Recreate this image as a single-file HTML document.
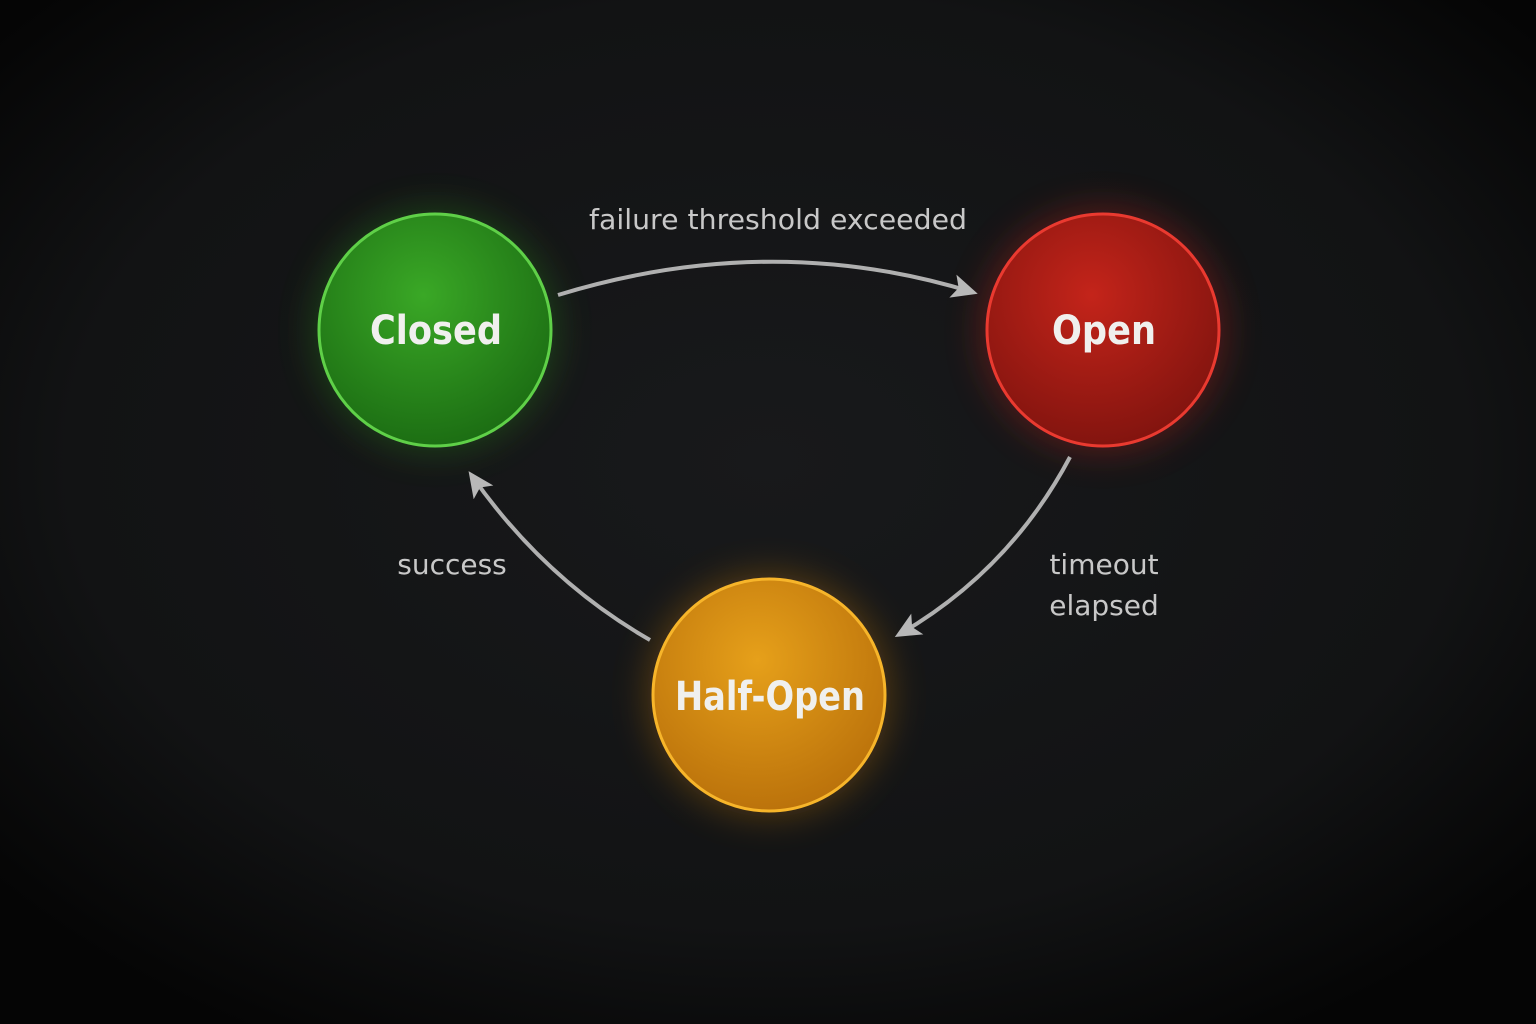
<!DOCTYPE html>
<html><head><meta charset="utf-8"><style>
html,body{margin:0;padding:0;width:1536px;height:1024px;overflow:hidden;background:#101012;}
svg{display:block}
text{font-family:"DejaVu Sans","Liberation Sans",sans-serif;}
</style></head><body>
<svg width="1536" height="1024" viewBox="0 0 1536 1024">
<defs>
<radialGradient id="bg" cx="50%" cy="45%" r="65%">
<stop offset="0" stop-color="#18191b"/><stop offset="0.7" stop-color="#121314"/><stop offset="1" stop-color="#050505"/>
</radialGradient>
<radialGradient id="g" cx="45%" cy="35%" r="70%"><stop offset="0" stop-color="#3aa826"/><stop offset="1" stop-color="#1a6a12"/></radialGradient>
<radialGradient id="r" cx="45%" cy="35%" r="70%"><stop offset="0" stop-color="#c4241a"/><stop offset="1" stop-color="#7e130e"/></radialGradient>
<radialGradient id="y" cx="45%" cy="35%" r="70%"><stop offset="0" stop-color="#e6a01a"/><stop offset="1" stop-color="#b86f0a"/></radialGradient>
<filter id="glow" x="-50%" y="-50%" width="200%" height="200%"><feGaussianBlur stdDeviation="18"/></filter>
<marker id="ah2" markerWidth="28" markerHeight="28" refX="20" refY="14" orient="auto" markerUnits="userSpaceOnUse">
<path d="M0,2 L26,14 L0,26 L6,14 Z" fill="#b8b8b8"/></marker>
</defs>
<rect width="1536" height="1024" fill="url(#bg)"/>
<circle cx="435" cy="330" r="122" fill="#2ea01e" opacity="0.3" filter="url(#glow)"/>
<circle cx="1103" cy="330" r="122" fill="#d0201a" opacity="0.35" filter="url(#glow)"/>
<circle cx="769" cy="695" r="122" fill="#e08a10" opacity="0.3" filter="url(#glow)"/>
<path d="M558,295 Q770,230 972,292" fill="none" stroke="#b0b0b0" stroke-width="4" marker-end="url(#ah2)"/>
<path d="M1070,457 Q1010,570 900,634" fill="none" stroke="#b0b0b0" stroke-width="4" marker-end="url(#ah2)"/>
<path d="M650,640 Q545,580 472,476" fill="none" stroke="#b0b0b0" stroke-width="4" marker-end="url(#ah2)"/>
<circle cx="435" cy="330" r="116" fill="url(#g)" stroke="#5fd048" stroke-width="3"/>
<circle cx="1103" cy="330" r="116" fill="url(#r)" stroke="#ea3a30" stroke-width="3"/>
<circle cx="769" cy="695" r="116" fill="url(#y)" stroke="#f7b52a" stroke-width="3"/>
<g fill="#f0f0ee" font-size="40" font-weight="bold" text-anchor="middle">
<text x="436" y="344" textLength="132" lengthAdjust="spacingAndGlyphs">Closed</text>
<text x="1104" y="344" textLength="104" lengthAdjust="spacingAndGlyphs">Open</text>
<text x="770" y="710" textLength="190" lengthAdjust="spacingAndGlyphs">Half-Open</text>
</g>
<g fill="#c8c8c8" font-size="28" text-anchor="middle">
<text x="778" y="229" textLength="378" lengthAdjust="spacingAndGlyphs">failure threshold exceeded</text>
<text x="452" y="574">success</text>
<text x="1104" y="574">timeout</text>
<text x="1104" y="615">elapsed</text>
</g>
</svg>
</body></html>
